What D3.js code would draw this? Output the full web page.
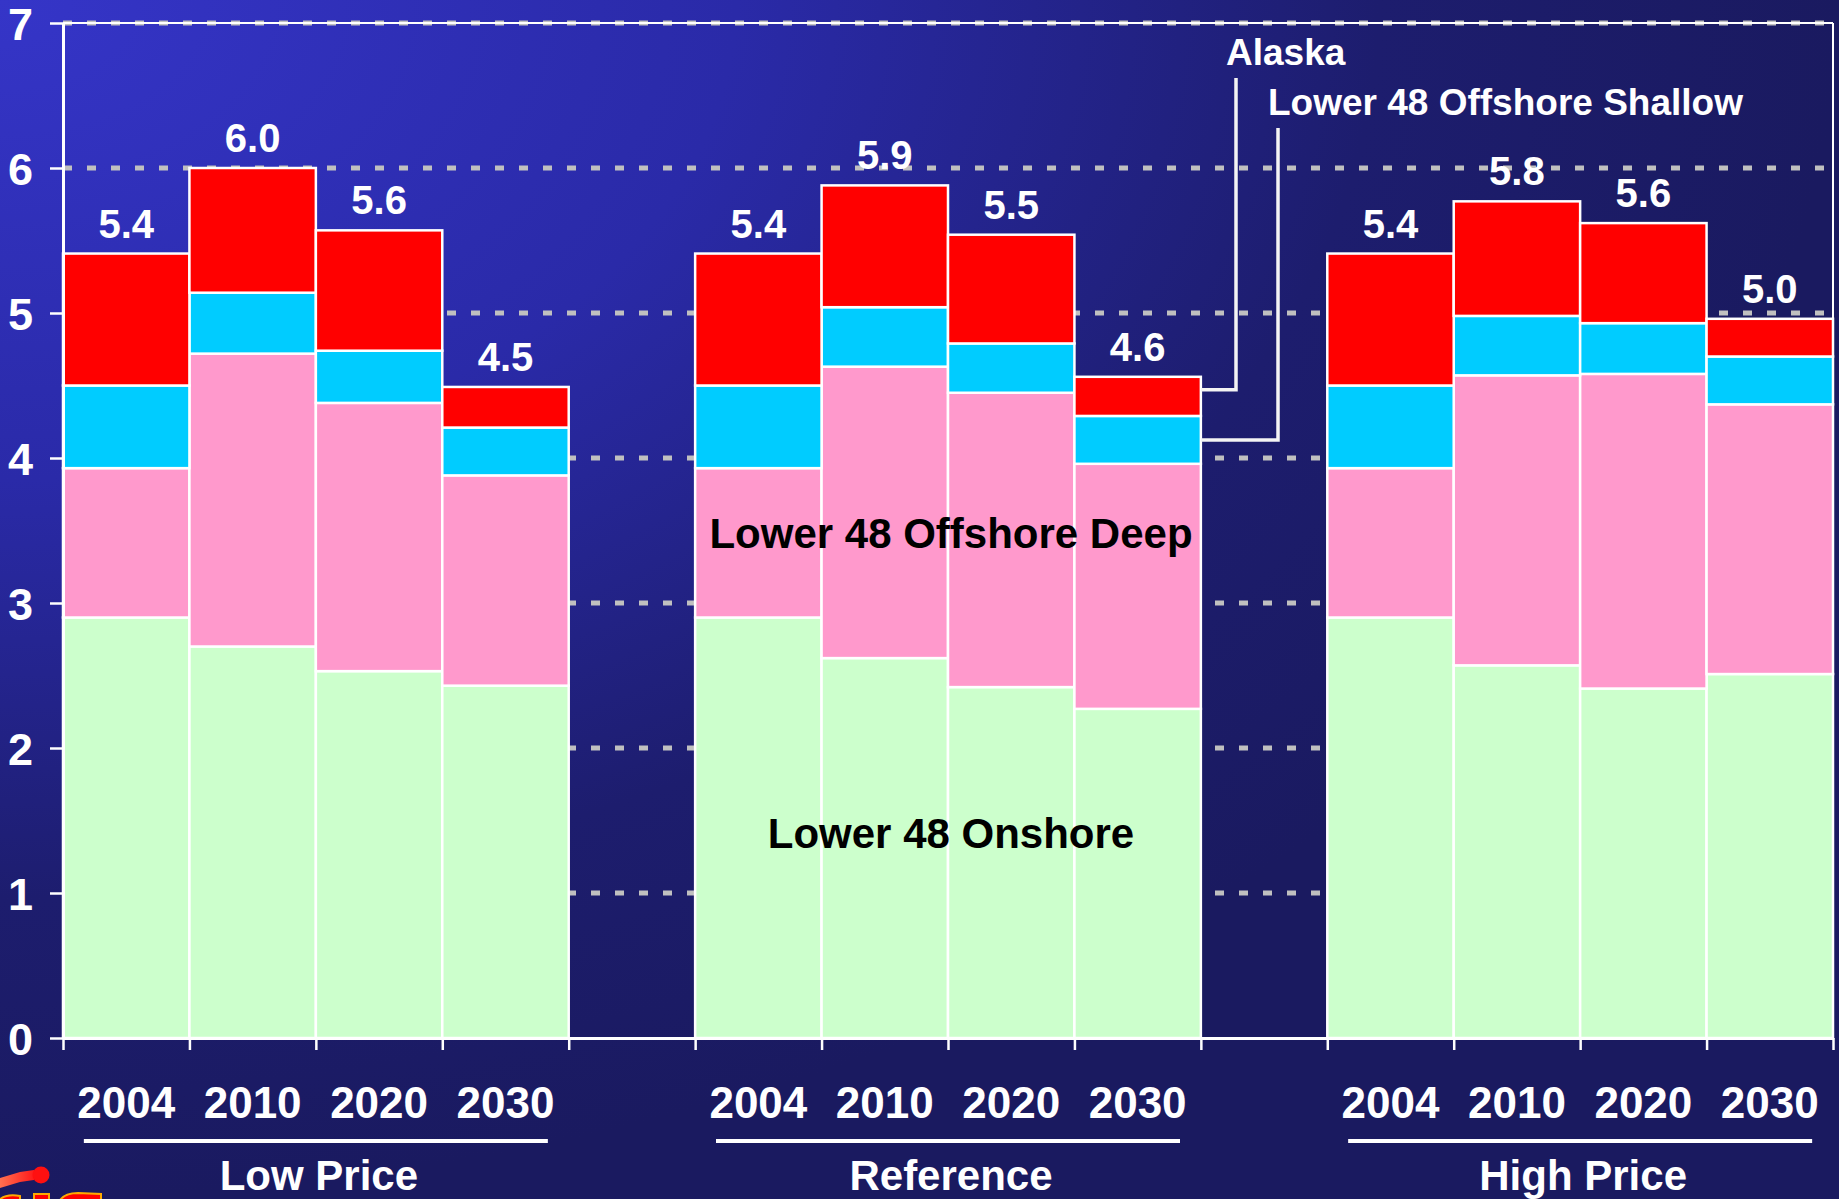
<!DOCTYPE html>
<html>
<head>
<meta charset="utf-8">
<script src="https://cdn.jsdelivr.net/npm/d3@7"></script>
<style>
  html, body { margin: 0; padding: 0; overflow: hidden; background: #1a1a62; }
  svg { display: block; }
  text { font-family: Arial, "Liberation Sans", sans-serif; font-weight: bold; }
</style>
</head>
<body>
<svg id="chart"></svg>
<script>
// scenarios and years, bars read left to right
var scenarios = ["Low Price", "Reference", "High Price"];
var years = ["2004", "2010", "2020", "2030"];
var yTicks = [0, 1, 2, 3, 4, 5, 6, 7];

// stacked pieces, 12 bars (Low 2004..2030, Reference 2004..2030, High 2004..2030)
var onshore = [2.90, 2.70, 2.53, 2.43, 2.90, 2.62, 2.42, 2.27, 2.90, 2.57, 2.41, 2.51];
var offshoreDeep = [1.03, 2.02, 1.85, 1.45, 1.03, 2.01, 2.03, 1.69, 1.03, 2.00, 2.17, 1.86];
var offshoreShallow = [0.57, 0.42, 0.36, 0.33, 0.57, 0.41, 0.34, 0.33, 0.57, 0.41, 0.35, 0.33];
var alaska = [0.91, 0.86, 0.83, 0.28, 0.91, 0.84, 0.75, 0.27, 0.91, 0.79, 0.69, 0.26];

var seriesKeys = ["onshore", "deep", "shallow", "alaska"];
var seriesColors = { onshore: "#ccffcc", deep: "#ff99cc", shallow: "#00ccff", alaska: "#ff0000" };

var W = 1839, H = 1199;
var plotLeft = 63, plotRight = 1833, plotTop = 23, plotBottom = 1038;

var svg = d3.select("#chart").attr("width", W).attr("height", H);

// background
var defs = svg.append("defs");
var bg = defs.append("radialGradient").attr("id", "bg")
    .attr("cx", 0).attr("cy", 0).attr("r", 1).attr("fx", 0).attr("fy", 0);
bg.append("stop").attr("offset", 0).attr("stop-color", "#3535c8");
bg.append("stop").attr("offset", 0.4).attr("stop-color", "#2a2aa8");
bg.append("stop").attr("offset", 0.75).attr("stop-color", "#1d1d6e");
bg.append("stop").attr("offset", 1).attr("stop-color", "#1a1a60");
svg.append("rect").attr("width", W).attr("height", H).attr("fill", "url(#bg)");

// rows for the stack
var rows = [];
scenarios.forEach(function (s, si) {
    years.forEach(function (yr, yi) {
        var i = si * years.length + yi;
        rows.push({
            key: s + "|" + yr, scenario: s, year: yr,
            onshore: onshore[i], deep: offshoreDeep[i],
            shallow: offshoreShallow[i], alaska: alaska[i]
        });
    });
});

// slots: bars of each scenario, one empty slot between scenarios
var slots = [];
scenarios.forEach(function (s, si) {
    years.forEach(function (yr) { slots.push(s + "|" + yr); });
    if (si < scenarios.length - 1) slots.push("gap" + si);
});

var x = d3.scaleBand().domain(slots).range([plotLeft, plotRight]).padding(0);
var slotIndex = d3.scaleLinear().domain([0, slots.length]).range([plotLeft, plotRight]);
var y = d3.scaleLinear().domain([0, 7]).range([plotBottom, plotTop]);

// gridlines
svg.append("g").selectAll("line")
    .data(yTicks.filter(function (d) { return d > 0; }))
    .enter().append("line")
    .attr("x1", plotLeft).attr("x2", plotRight)
    .attr("y1", function (d) { return y(d); }).attr("y2", function (d) { return y(d); })
    .attr("stroke", "#c0c0c0").attr("stroke-width", 5)
    .attr("stroke-dasharray", "9,15");

// frame top and right
svg.append("line").attr("x1", plotLeft).attr("x2", plotRight).attr("y1", y(7)).attr("y2", y(7))
    .attr("stroke", "#ffffff").attr("stroke-width", 2);
svg.append("line").attr("x1", plotRight).attr("x2", plotRight).attr("y1", y(7)).attr("y2", plotBottom)
    .attr("stroke", "#ffffff").attr("stroke-width", 2);

// bars
var stacked = d3.stack().keys(seriesKeys)(rows);
svg.append("g").selectAll("g")
    .data(stacked)
    .enter().append("g")
    .attr("fill", function (d) { return seriesColors[d.key]; })
    .selectAll("rect")
    .data(function (d) { return d; })
    .enter().append("rect")
    .attr("x", function (d) { return x(d.data.key); })
    .attr("width", x.bandwidth())
    .attr("y", function (d) { return y(d[1]); })
    .attr("height", function (d) { return y(d[0]) - y(d[1]); })
    .attr("stroke", "#ffffff").attr("stroke-width", 2.5);

// totals above bars
var fmt = d3.format(".1f");
function total(d) { return d.onshore + d.deep + d.shallow + d.alaska; }
svg.append("g").selectAll("text")
    .data(rows)
    .enter().append("text")
    .attr("x", function (d) { return x(d.key) + x.bandwidth() / 2; })
    .attr("y", function (d) { return y(total(d)) - 16; })
    .attr("text-anchor", "middle")
    .attr("fill", "#ffffff").style("font-size", "40px")
    .text(function (d) { return fmt(total(d)); });

// y axis
var yAxis = svg.append("g")
    .attr("transform", "translate(" + plotLeft + ",0)")
    .call(d3.axisLeft(y).tickValues(yTicks).tickSize(13).tickSizeOuter(0).tickPadding(17).tickFormat(d3.format("d")));
yAxis.select(".domain").attr("stroke", "#ffffff").attr("stroke-width", 3);
yAxis.selectAll(".tick line").attr("stroke", "#ffffff").attr("stroke-width", 2.5);
yAxis.selectAll(".tick text").attr("fill", "#ffffff").style("font-size", "45px")
    .style("font-family", "Arial, 'Liberation Sans', sans-serif").attr("dy", "0.36em");

// x axis, ticks at every slot edge
var xAxis = svg.append("g")
    .attr("transform", "translate(0," + plotBottom + ")")
    .call(d3.axisBottom(slotIndex).tickValues(d3.range(slots.length + 1)).tickSize(12).tickSizeOuter(0).tickFormat(""));
xAxis.select(".domain").attr("stroke", "#ffffff").attr("stroke-width", 3);
xAxis.selectAll(".tick line").attr("stroke", "#ffffff").attr("stroke-width", 2.5);

// year labels
svg.append("g").selectAll("text")
    .data(rows)
    .enter().append("text")
    .attr("x", function (d) { return x(d.key) + x.bandwidth() / 2; })
    .attr("y", 1118)
    .attr("text-anchor", "middle")
    .attr("fill", "#ffffff").style("font-size", "44px")
    .text(function (d) { return d.year; });

// scenario underline and name
scenarios.forEach(function (s) {
    var first = x(s + "|" + years[0]);
    var last = x(s + "|" + years[years.length - 1]) + x.bandwidth();
    var cx = (first + last) / 2;
    svg.append("line")
        .attr("x1", cx - 232).attr("x2", cx + 232)
        .attr("y1", 1141).attr("y2", 1141)
        .attr("stroke", "#ffffff").attr("stroke-width", 4);
    svg.append("text")
        .attr("x", cx + 3).attr("y", 1190)
        .attr("text-anchor", "middle")
        .attr("fill", "#ffffff").style("font-size", "42px")
        .text(s);
});

// labels inside the reference bars
var refMid = (x("Reference|2004") + x("Reference|2030") + x.bandwidth()) / 2;
svg.append("text").attr("x", refMid + 3).attr("y", 548)
    .attr("text-anchor", "middle").attr("fill", "#000000").style("font-size", "42px")
    .text("Lower 48 Offshore Deep");
svg.append("text").attr("x", refMid + 3).attr("y", 848)
    .attr("text-anchor", "middle").attr("fill", "#000000").style("font-size", "42px")
    .text("Lower 48 Onshore");

// call-outs for the two thin series, pointing at Reference 2030
var refLast = rows[7];
var barRight = x(refLast.key) + x.bandwidth();
var callouts = [
    { text: "Alaska", tx: 1226, ty: 65,
      target: refLast.onshore + refLast.deep + refLast.shallow + refLast.alaska * 0.67 },
    { text: "Lower 48 Offshore Shallow", tx: 1268, ty: 115,
      target: refLast.onshore + refLast.deep + refLast.shallow / 2 }
];
callouts.forEach(function (c) {
    svg.append("text").attr("x", c.tx).attr("y", c.ty)
        .attr("fill", "#ffffff").style("font-size", "37px").text(c.text);
    svg.append("path")
        .attr("d", "M" + (c.tx + 10) + "," + (c.ty + 13) +
            "V" + y(c.target) + "H" + barRight)
        .attr("fill", "none").attr("stroke", "#f4f4f4").attr("stroke-width", 3.5);
});

// corner logo, cut off by the page edge
var sw = defs.append("linearGradient").attr("id", "swoosh")
    .attr("x1", 0).attr("x2", 1).attr("y1", 0).attr("y2", 0);
sw.append("stop").attr("offset", 0).attr("stop-color", "#ff7050");
sw.append("stop").attr("offset", 1).attr("stop-color", "#ff1a1a");
var logo = svg.append("g");
logo.append("path").attr("d", "M0,1178 L20,1172 L34,1170 L34,1180 L20,1182 L0,1188 Z").attr("fill", "url(#swoosh)");
logo.append("circle").attr("cx", 41).attr("cy", 1175).attr("r", 8.5).attr("fill", "#ff1010");
logo.append("path").attr("d", "M-4,1204 Q2,1193 20,1196 L20,1204 Z").attr("fill", "#ff0000").attr("stroke", "#ffaa00").attr("stroke-width", 2);
logo.append("rect").attr("x", 34).attr("y", 1194).attr("width", 15).attr("height", 10).attr("fill", "#ff0000").attr("stroke", "#ffaa00").attr("stroke-width", 2);
logo.append("path").attr("d", "M58,1204 Q62,1193 78,1193 L101,1194 L101,1204 Z").attr("fill", "#ff0000").attr("stroke", "#ffaa00").attr("stroke-width", 2);
</script>
</body>
</html>
